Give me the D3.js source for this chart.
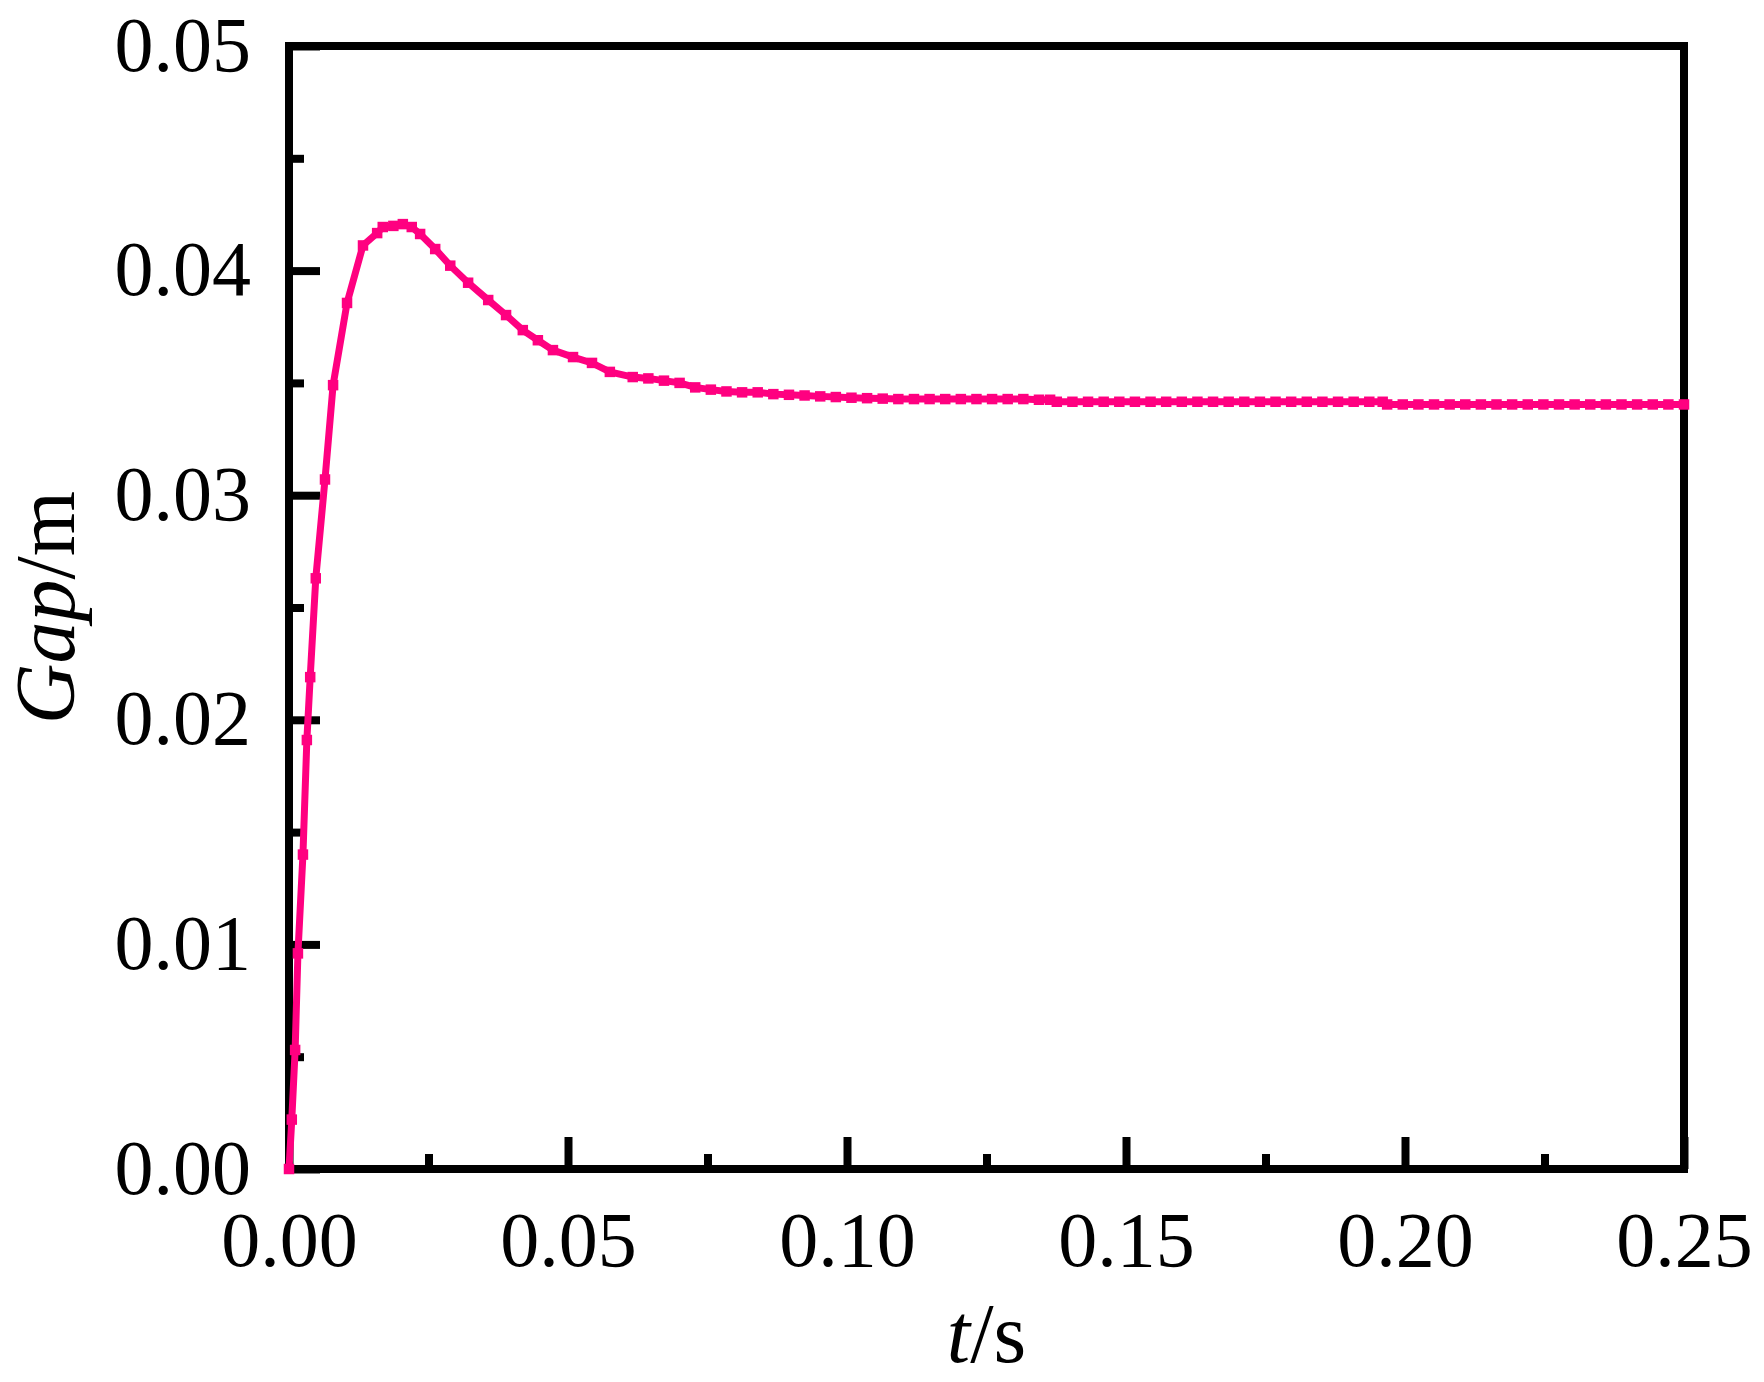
<!DOCTYPE html>
<html>
<head>
<meta charset="utf-8">
<script src="https://cdn.jsdelivr.net/npm/d3@7"></script>
<style>
  body { margin: 0; background: #fff; }
  text { font-family: "Liberation Serif", "Times New Roman", serif; fill: #000; }
</style>
</head>
<body>
<svg id="plot"></svg>
<script>
// Data (time in s, gap in m)
const timeValues = [
    0, 0.0005, 0.0011, 0.0016, 0.0025, 0.0032, 0.0038, 0.0048, 0.00645, 0.0079,
    0.0104, 0.01326, 0.0158, 0.0168, 0.0187, 0.0204, 0.0220, 0.0235, 0.0262, 0.0289,
    0.0321, 0.0357, 0.0389, 0.0419, 0.0446, 0.0473, 0.0509, 0.0543, 0.0575, 0.0616,
    0.0644, 0.0672, 0.0700, 0.0728, 0.0756, 0.0784, 0.0812, 0.0840, 0.0868, 0.0896,
    0.0924, 0.0952, 0.0980, 0.1008, 0.1036, 0.1064, 0.1092, 0.1120, 0.1148, 0.1176,
    0.1204, 0.1232, 0.1260, 0.1288, 0.1316, 0.1344, 0.1364, 0.1376, 0.1404, 0.1432,
    0.1460, 0.1488, 0.1516, 0.1544, 0.1572, 0.1600, 0.1628, 0.1656, 0.1684, 0.1712,
    0.1740, 0.1768, 0.1796, 0.1824, 0.1852, 0.1880, 0.1908, 0.1936, 0.1960, 0.1968,
    0.1996, 0.2024, 0.2052, 0.2080, 0.2108, 0.2136, 0.2164, 0.2192, 0.2220, 0.2248,
    0.2276, 0.2304, 0.2332, 0.2360, 0.2388, 0.2416, 0.2444, 0.2472, 0.2500
];
const gapValues = [
    0, 0.0022, 0.0053, 0.0096, 0.0140, 0.0191, 0.0219, 0.0263, 0.0307, 0.0349,
    0.03856, 0.04112, 0.04167, 0.04194, 0.04199, 0.04207, 0.04194, 0.04163, 0.04096, 0.04022,
    0.03946, 0.03869, 0.03802, 0.03735, 0.03690, 0.03646, 0.03615, 0.03589, 0.03549, 0.03526,
    0.03520, 0.03510, 0.03500, 0.03480, 0.03470, 0.03462, 0.03458, 0.03458, 0.03450, 0.03447,
    0.03444, 0.03440, 0.03437, 0.03434, 0.03432, 0.03430, 0.03428, 0.03428, 0.03428, 0.03428,
    0.03428, 0.03428, 0.03428, 0.03428, 0.03428, 0.03425, 0.03425, 0.03416, 0.03416, 0.03416,
    0.03416, 0.03416, 0.03416, 0.03416, 0.03416, 0.03416, 0.03416, 0.03416, 0.03416, 0.03416,
    0.03416, 0.03416, 0.03416, 0.03416, 0.03416, 0.03416, 0.03416, 0.03416, 0.03416, 0.03404,
    0.03404, 0.03404, 0.03404, 0.03404, 0.03404, 0.03404, 0.03404, 0.03404, 0.03404, 0.03404,
    0.03404, 0.03404, 0.03404, 0.03404, 0.03404, 0.03404, 0.03404, 0.03404, 0.03404
];
const xTicks = [0, 0.05, 0.10, 0.15, 0.20, 0.25];
const xMinorTicks = [0.025, 0.075, 0.125, 0.175, 0.225];
const yTicks = [0, 0.01, 0.02, 0.03, 0.04, 0.05];
const yMinorTicks = [0.005, 0.015, 0.025, 0.035, 0.045];

let width = 1395;
let height = 1123;
let margin = { top: 46, bottom: 213, left: 289, right: 80 };

let svg = d3.select('#plot')
    .attr('width', 1764)
    .attr('height', 1382)
    .append('g')
    .attr('transform', `translate(${margin.left}, ${margin.top})`);

let data = timeValues.map((t, i) => ({ t: t, g: gapValues[i] }));

let xScale = d3.scaleLinear().domain([0, 0.25]).range([0, width]);
let yScale = d3.scaleLinear().domain([0, 0.05]).range([height, 0]);

// Minor ticks (inward)
svg.append('g')
    .attr('transform', `translate(0, ${height})`)
    .call(d3.axisBottom(xScale).tickValues(xMinorTicks).tickSize(-15).tickFormat(''))
    .call(g => g.select('.domain').remove())
    .selectAll('line').attr('stroke-width', 8);
svg.append('g')
    .call(d3.axisLeft(yScale).tickValues(yMinorTicks).tickSize(-15).tickFormat(''))
    .call(g => g.select('.domain').remove())
    .selectAll('line').attr('stroke-width', 8);

// Major ticks and labels
let xAxis = svg.append('g')
    .attr('transform', `translate(0, ${height})`)
    .call(d3.axisBottom(xScale).tickValues(xTicks).tickSize(-32).tickPadding(42).tickFormat(d3.format('.2f')))
    .call(g => g.select('.domain').remove());
xAxis.selectAll('line').attr('stroke-width', 8);
xAxis.selectAll('text').style('font-size', '78px');

let yAxis = svg.append('g')
    .call(d3.axisLeft(yScale).tickValues(yTicks).tickSize(-31).tickPadding(38).tickFormat(d3.format('.2f')))
    .call(g => g.select('.domain').remove());
yAxis.selectAll('line').attr('stroke-width', 8);
yAxis.selectAll('text').style('font-size', '78px').attr('dy', '0.31em');

// Frame
svg.append('rect')
    .attr('width', width)
    .attr('height', height)
    .attr('fill', 'none')
    .attr('stroke', '#000')
    .attr('stroke-width', 8);

// Curve
let line = d3.line().x(d => xScale(d.t)).y(d => yScale(d.g));
svg.append('path')
    .datum(data)
    .attr('d', line)
    .attr('fill', 'none')
    .attr('stroke', '#ff0080')
    .attr('stroke-width', 7);

svg.selectAll('.pt')
    .data(data)
    .enter()
    .append('path')
    .attr('class', 'pt')
    .attr('d', d3.symbol().type(d3.symbolSquare).size(110))
    .attr('transform', d => `translate(${xScale(d.t)}, ${yScale(d.g)})`)
    .attr('fill', '#ff0080');

// Axis titles
let xTitle = svg.append('text')
    .attr('x', width / 2)
    .attr('y', 1362 - margin.top)
    .attr('text-anchor', 'middle')
    .style('font-size', '84px');
xTitle.append('tspan').style('font-style', 'italic').text('t');
xTitle.append('tspan').text('/s');

let yTitle = svg.append('text')
    .attr('transform', `translate(${74 - margin.left}, ${height / 2}) rotate(-90)`)
    .attr('text-anchor', 'middle')
    .style('font-size', '84px');
yTitle.append('tspan').style('font-style', 'italic').text('Gap');
yTitle.append('tspan').text('/m');
</script>
</body>
</html>
